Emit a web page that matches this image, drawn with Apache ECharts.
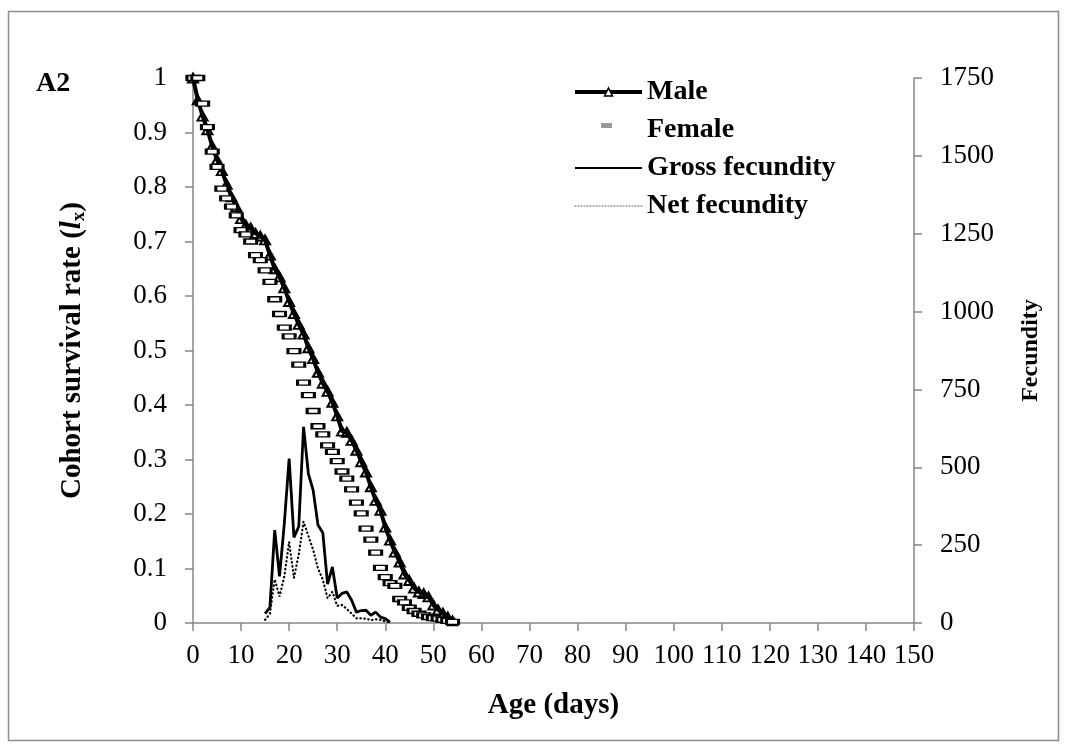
<!DOCTYPE html>
<html>
<head>
<meta charset="utf-8">
<script src="https://cdn.jsdelivr.net/npm/echarts@6/dist/echarts.min.js"></script>
<style>
html,body{margin:0;padding:0;background:#fff;}
#chart{width:1067px;height:751px;}
</style>
</head>
<body>
<div id="chart"></div>
<script>
// ---- data ----
const survDays = [0,1,2,3,4,5,6,7,8,9,10,11,12,13,14,15,16,17,18,19,20,21,22,23,24,25,26,27,28,29,30,31,32,33,34,35,36,37,38,39,40,41,42,43,44,45,46,47,48,49,50,51,52,53,54];
const male = [1.0,0.96,0.93,0.905,0.875,0.85,0.83,0.805,0.782,0.764,
              0.742,0.73,0.725,0.715,0.71,0.703,0.675,0.65,0.635,0.615,
              0.59,0.568,0.548,0.53,0.505,0.485,0.46,0.44,0.425,0.405,
              0.38,0.352,0.35,0.335,0.317,0.296,0.277,0.25,0.225,0.207,
              0.176,0.152,0.13,0.112,0.09,0.078,0.064,0.057,0.054,0.048,
              0.033,0.024,0.018,0.011,0.004];
const female = [1.0,1.0,0.953,0.91,0.865,0.837,0.797,0.779,0.764,0.748,
                0.721,0.713,0.70,0.675,0.666,0.647,0.626,0.594,0.567,0.542,
                0.526,0.499,0.474,0.441,0.418,0.389,0.361,0.346,0.326,0.314,
                0.297,0.278,0.265,0.245,0.221,0.201,0.173,0.153,0.129,0.101,
                0.084,0.073,0.068,0.044,0.038,0.028,0.022,0.017,0.014,0.011,
                0.009,0.008,0.006,0.004,0.002];
const fecDays = [15,16,17,18,19,20,21,22,23,24,25,26,27,28,29,30,31,32,33,34,35,36,37,38,39,40,41];
const grossFecundity = [30,50,298,150,320,528,275,310,630,480,426,315,290,125,180,80,95,100,73,35,40,41,25,35,19,14,3];
const netFecundity   = [10,30,140,85,150,260,145,220,325,280,235,175,140,80,100,55,58,45,30,15,15,14,9,12,10,5,2];
const seriesNames = ['Male','Female','Gross fecundity','Net fecundity'];
const xTicks = {min:0, max:150, interval:10};
const leftTicks = {min:0, max:1, interval:0.1};
const rightTicks = {min:0, max:1750, interval:250};

const pair = (xs, ys) => xs.map((x, i) => [x, ys[i]]);

const FONT = 'Liberation Serif';
const AX = '#868686';
const axisCommon = {
  axisLine: {show: true, lineStyle: {color: AX, width: 1.5}},
  axisTick: {show: true, inside: false, length: 8, lineStyle: {color: AX, width: 1.5}},
  splitLine: {show: false},
};

const chart = echarts.init(document.getElementById('chart'), null, {renderer: 'canvas'});
chart.setOption({
  animation: false,
  backgroundColor: '#fff',
  grid: {left: 193, right: 153, top: 78, bottom: 128, containLabel: false},
  legend: {
    orient: 'vertical', left: 568, top: 73,
    itemWidth: 67, itemHeight: 10, itemGap: 10,
    textStyle: {fontFamily: FONT, fontSize: 28, fontWeight: 'bold', color: '#000', lineHeight: 28},
    data: [
      {name: seriesNames[0], lineStyle: {width: 4, color: '#000'}, itemStyle: {color: '#fff', borderColor: '#000', borderWidth: 1.5}},
      {name: seriesNames[1], itemStyle: {opacity: 0}},
      {name: seriesNames[2], itemStyle: {opacity: 0}, lineStyle: {width: 2, color: '#000'}},
      {name: seriesNames[3], itemStyle: {opacity: 0}, lineStyle: {width: 1, color: '#555', type: [1, 2]}}
    ]
  },
  graphic: [
    {type: 'rect', shape: {x: 8.5, y: 11.5, width: 1050, height: 729}, style: {fill: 'none', stroke: '#8c8c8c', lineWidth: 1.5}, silent: true, z: -10},
    {type: 'text', left: 36, top: 70, style: {text: 'A2', font: 'bold 28px "Liberation Serif"', fill: '#000'}},
    {type: 'rect', shape: {x: 601, y: 123, width: 11, height: 5}, style: {fill: '#9a9a9a'}, silent: true, z: 100}
  ],
  xAxis: Object.assign({}, axisCommon, {
    type: 'value', min: xTicks.min, max: xTicks.max, interval: xTicks.interval,
    name: 'Age (days)', nameLocation: 'middle', nameGap: 68,
    nameTextStyle: {fontFamily: FONT, fontSize: 29, fontWeight: 'bold', color: '#000'},
    axisLabel: {fontFamily: FONT, fontSize: 27, color: '#000', margin: 19}
  }),
  yAxis: [
    Object.assign({}, axisCommon, {
      type: 'value', position: 'left', min: leftTicks.min, max: leftTicks.max, interval: leftTicks.interval,
      name: '{b|Cohort survival rate (}{i|l}{s|x}{b|)}', nameLocation: 'middle', nameGap: 104, nameRotate: 90,
      nameTextStyle: {
        rich: {
          b: {fontFamily: FONT, fontSize: 29, fontWeight: 'bold', color: '#000'},
          i: {fontFamily: FONT, fontSize: 29, fontWeight: 'bold', fontStyle: 'italic', color: '#000'},
          s: {fontFamily: FONT, fontSize: 19, fontWeight: 'bold', color: '#000', verticalAlign: 'bottom', padding: [14, 0, 0, 0]}
        }
      },
      axisLabel: {fontFamily: FONT, fontSize: 27, color: '#000', margin: 26,
        formatter: v => String(Math.round(v * 10) / 10)}
    }),
    Object.assign({}, axisCommon, {
      type: 'value', position: 'right', min: rightTicks.min, max: rightTicks.max, interval: rightTicks.interval,
      name: 'Fecundity', nameLocation: 'middle', nameGap: 105, nameRotate: 90,
      nameTextStyle: {fontFamily: FONT, fontSize: 24, fontWeight: 'bold', color: '#000'},
      axisLabel: {fontFamily: FONT, fontSize: 27, color: '#000', margin: 26, formatter: v => String(v)}
    })
  ],
  series: [
    {
      name: seriesNames[0], type: 'line', yAxisIndex: 0, data: pair(survDays, male),
      symbol: 'triangle', symbolSize: [10, 9], showAllSymbol: true,
      lineStyle: {color: '#000', width: 4},
      itemStyle: {color: 'rgba(255,255,255,0)', borderColor: '#000', borderWidth: 2},
      z: 3
    },
    {
      name: seriesNames[1], type: 'line', yAxisIndex: 0, data: pair(survDays, female),
      symbol: 'rect', symbolSize: [12, 5], showAllSymbol: true,
      lineStyle: {width: 0, opacity: 0},
      itemStyle: {color: '#fff', borderColor: '#000', borderWidth: 2},
      z: 4
    },
    {
      name: seriesNames[2], type: 'line', yAxisIndex: 1, data: pair(fecDays, grossFecundity),
      symbol: 'none', lineStyle: {color: '#000', width: 2.8},
      itemStyle: {color: '#000'}, z: 2
    },
    {
      name: seriesNames[3], type: 'line', yAxisIndex: 1, data: pair(fecDays, netFecundity),
      symbol: 'none', lineStyle: {color: '#000', width: 2.2, type: [0.5, 3.5], cap: 'round'},
      itemStyle: {color: '#000'}, z: 2
    }
  ]
});
</script>
</body>
</html>
